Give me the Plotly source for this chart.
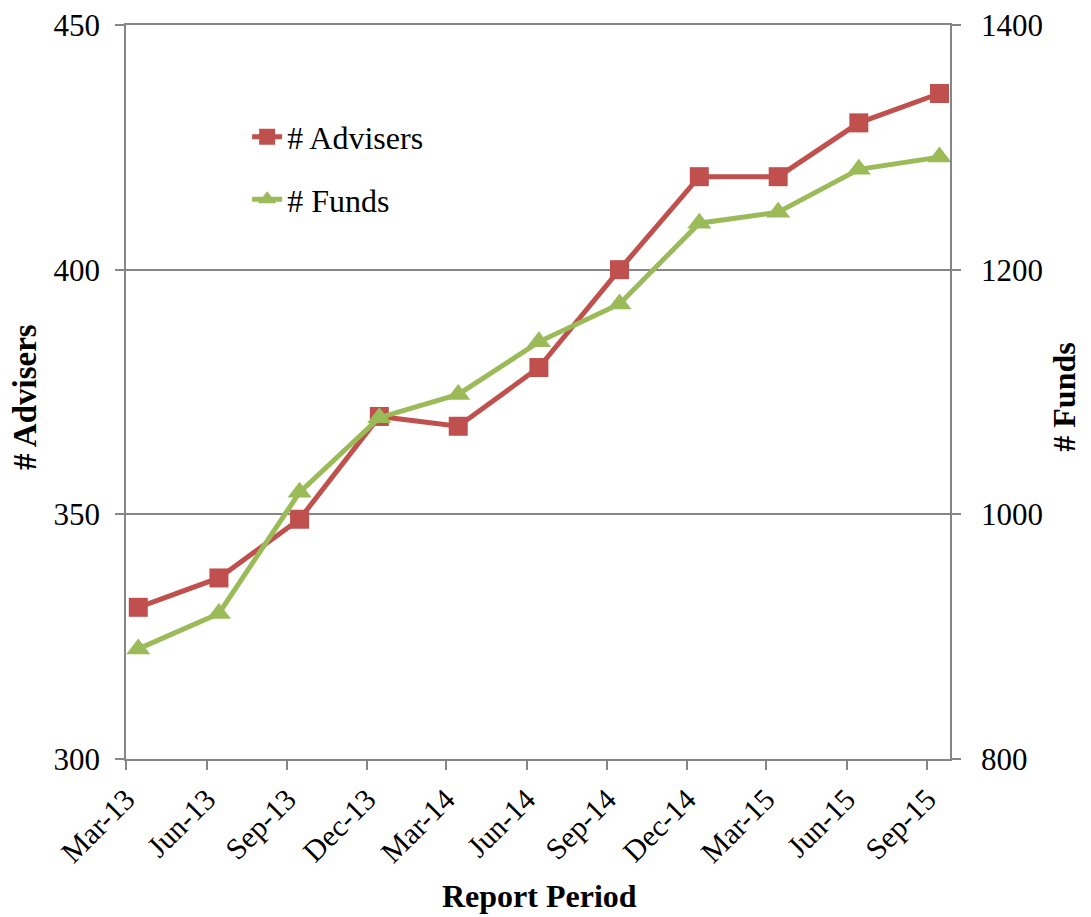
import plotly.graph_objects as go
import pandas as pd

periods = ["Mar-13", "Jun-13", "Sep-13", "Dec-13", "Mar-14", "Jun-14",
           "Sep-14", "Dec-14", "Mar-15", "Jun-15", "Sep-15"]
advisers = [331, 337, 349, 370, 368, 380, 400, 419, 419, 430, 436]
funds = [890, 919, 1018, 1079, 1098, 1141, 1172, 1238, 1247, 1282, 1292]

RED = "#C0504D"
GREEN = "#9BBB59"
GRID = "#868686"
FONT = "Liberation Serif"

month_start = pd.to_datetime(periods, format="%b-%y")
point_dates = month_start + pd.Timedelta(days=14)

fig = go.Figure()
fig.add_trace(go.Scatter(
    x=point_dates, y=advisers, name="# Advisers", mode="lines+markers",
    line=dict(color=RED, width=5),
    marker=dict(symbol="square", size=19, color=RED),
    legendgroup="a", yaxis="y"))
fig.add_trace(go.Scatter(
    x=point_dates, y=funds, name="# Funds", mode="lines+markers",
    line=dict(color=GREEN, width=5),
    marker=dict(symbol="triangle-up", size=21, color=GREEN),
    legendgroup="b", yaxis="y2"))

fig.update_layout(
    width=1083, height=909,
    margin=dict(l=118, r=141, t=17, b=158, autoexpand=False),
    paper_bgcolor="white", plot_bgcolor="white",
    font=dict(family=FONT, color="black", size=30),
    showlegend=True,
    legend=dict(x=0.147, y=0.885, xanchor="left", yanchor="top",
                bgcolor="rgba(0,0,0,0)", font=dict(size=32, family=FONT),
                tracegroupgap=18),
    xaxis=dict(
        type="date", automargin=False,
        range=[month_start[0], pd.Timestamp("2015-09-27")],
        tickvals=month_start, ticktext=periods,
        tickangle=-45, tickfont=dict(size=30, family=FONT),
        ticks="outside", ticklen=9, tickcolor=GRID, tickwidth=1.5,
        showline=True, linecolor=GRID, linewidth=1.5, mirror=True,
        showgrid=False, zeroline=False,
    ),
    yaxis=dict(
        range=[300, 450], dtick=50, tick0=300, automargin=False,
        ticks="outside", ticklen=9, tickcolor=GRID, tickwidth=1.5,
        tickfont=dict(size=31, family=FONT), ticklabeloverflow="allow",
        ticklabelstandoff=9,
        showline=True, linecolor=GRID, linewidth=1.5,
        showgrid=True, gridcolor=GRID, gridwidth=1.5, zeroline=False,
    ),
    yaxis2=dict(
        range=[800, 1400], dtick=200, tick0=800, automargin=False,
        overlaying="y", side="right",
        ticks="outside", ticklen=9, tickcolor=GRID, tickwidth=1.5,
        tickfont=dict(size=31, family=FONT), ticklabeloverflow="allow",
        ticklabelstandoff=14,
        showline=True, linecolor=GRID, linewidth=1.5,
        showgrid=False, zeroline=False,
    ),
    annotations=[
        dict(text="<b># Advisers</b>", xref="paper", yref="paper",
             x=-0.1226, y=0.493, textangle=-90, showarrow=False,
             font=dict(size=33, family=FONT), xanchor="center", yanchor="middle"),
        dict(text="<b># Funds</b>", xref="paper", yref="paper",
             x=1.139, y=0.493, textangle=-90, showarrow=False,
             font=dict(size=32, family=FONT), xanchor="center", yanchor="middle"),
        dict(text="<b>Report Period</b>", xref="paper", yref="paper",
             x=0.502, y=-0.186, showarrow=False,
             font=dict(size=32, family=FONT), xanchor="center", yanchor="middle"),
    ],
)

fig.write_html("out.html")
